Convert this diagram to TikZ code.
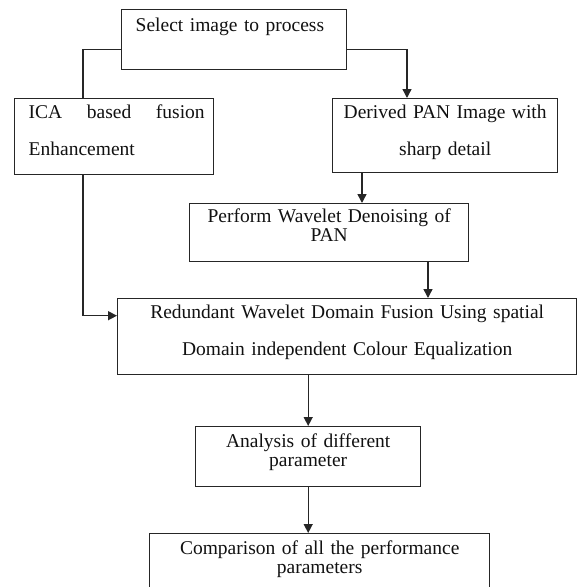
\documentclass[tikz,border=0pt]{standalone}
\usepackage{fontspec}
\setmainfont{Liberation Serif}
\usetikzlibrary{arrows.meta}
\definecolor{ink}{HTML}{111111}
\definecolor{frame}{HTML}{262626}
\newcommand{\flowfont}{\fontsize{19.5}{19}\selectfont}
\tikzset{
  >={Triangle[length=9pt,width=9pt]},
  every node/.style={font=\flowfont,text=ink},
  box/.style={draw=frame,line width=1.4pt,anchor=north west,inner xsep=0pt,inner ysep=0pt,align=center},
  leftbox/.style={box,align=left,inner xsep=14pt},
  line/.style={draw=frame,line width=1.4pt},
  arrow/.style={line,->},
}

\begin{document}
\begin{tikzpicture}[x=1pt,y=-1pt]
\useasboundingbox (0,0) rectangle (577,587);
\clip (0,0) rectangle (577,587);

% --- top: input and the two branches
\node[leftbox,text width=197,text height=22,text depth=38] (select) at (121,9) {Select image to process};
\node[box,align=left,text width=199,text height=20,text depth=56] (ica) at (14,98)
{\hspace*{14pt}\hbox to 176pt{ICA\hfill based\hfill fusion}\\[18pt]\hspace*{14pt}Enhancement};
\node[box,text width=225,text height=20,text depth=54] (derived) at (332,98)
{Derived PAN Image with\\[18pt]sharp detail};
\node[box,text width=279,text height=19,text depth=39] (perform) at (189,203)
{Perform Wavelet Denoising of\\PAN};

% --- fusion and evaluation
\node[box,text width=459,text height=20,text depth=56] (redundant) at (117,298)
{Redundant Wavelet Domain Fusion Using spatial\\[18pt]Domain independent Colour Equalization};
\node[box,text width=225,text height=21,text depth=39] (analysis) at (195,426)
{Analysis of different\\parameter};
\node[box,text width=340,text height=21,text depth=46] (comparison) at (149,533)
{Comparison of all the performance\\parameters};

\draw[line] ([yshift=-10pt]select.west) -| ([xshift=69pt]ica.north west);
\draw[arrow] ([yshift=-10pt]select.east) -| ([xshift=75pt]derived.north west);
\coordinate (dp) at ([xshift=30pt]derived.south west);
\draw[arrow] (dp) -- (dp |- perform.north);
\coordinate (pr) at ([xshift=239pt]perform.south west);
\draw[arrow] (pr) -- (pr |- redundant.north);
\draw[arrow] ([xshift=69pt]ica.south west) |- ([yshift=21pt]redundant.west);
\draw[arrow] (redundant.south -| analysis.north) -- (analysis.north);
\draw[arrow] (analysis.south) -- (analysis.south |- comparison.north);

\end{tikzpicture}
\end{document}
